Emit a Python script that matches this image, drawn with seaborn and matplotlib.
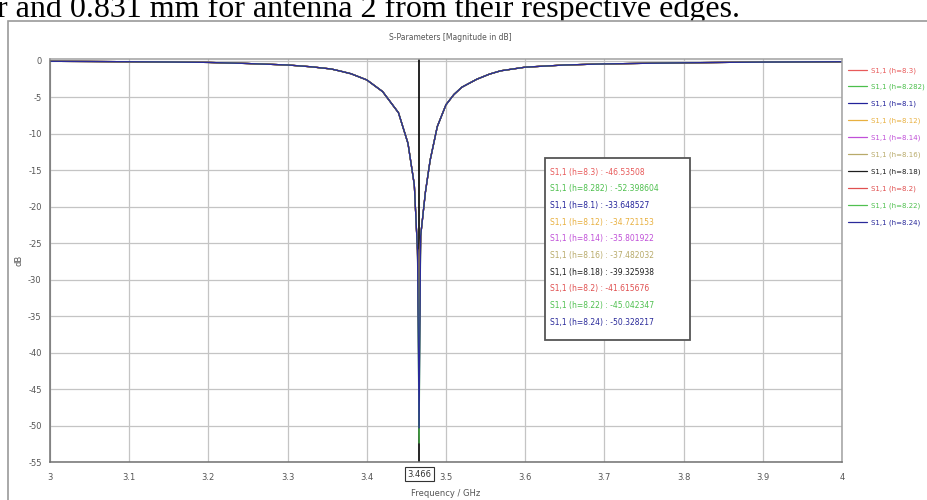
import matplotlib
matplotlib.use("Agg")
import matplotlib.pyplot as plt
import seaborn as sns
import pandas as pd
from matplotlib.patches import Rectangle

# ---------------- data ----------------
freq_left = [3.0, 3.05, 3.1, 3.15, 3.2, 3.25, 3.3, 3.33, 3.355, 3.367, 3.38,
             3.4, 3.42, 3.44, 3.452, 3.46, 3.464]
db_left = [-0.05, -0.07, -0.1, -0.14, -0.2, -0.35, -0.55, -0.8, -1.1, -1.4, -1.75,
           -2.6, -4.2, -7.1, -11.3, -17.0, -26.0]
freq_res = 3.466
freq_right = [3.468, 3.474, 3.48, 3.489, 3.5, 3.51, 3.52, 3.539, 3.555, 3.569,
              3.6, 3.65, 3.7, 3.8, 3.9, 4.0]
db_right = [-24.0, -18.0, -13.6, -9.0, -6.0, -4.6, -3.6, -2.5, -1.8, -1.35,
            -0.85, -0.55, -0.4, -0.25, -0.15, -0.1]

series_names = ["S1,1 (h=8.3)", "S1,1 (h=8.282)", "S1,1 (h=8.1)", "S1,1 (h=8.12)",
                "S1,1 (h=8.14)", "S1,1 (h=8.16)", "S1,1 (h=8.18)", "S1,1 (h=8.2)",
                "S1,1 (h=8.22)", "S1,1 (h=8.24)"]
min_values = [-46.53508, -52.398604, -33.648527, -34.721153, -35.801922,
              -37.482032, -39.325938, -41.615676, -45.042347, -50.328217]
min_labels = ["-46.53508", "-52.398604", "-33.648527", "-34.721153", "-35.801922",
              "-37.482032", "-39.325938", "-41.615676", "-45.042347", "-50.328217"]
colors = ["#e85a5a", "#4cbf4c", "#22229a", "#e8b040", "#c050d8",
          "#b8aa6a", "#1e1e1e", "#e05050", "#50c050", "#2a2a9a"]

x_ticks = [3.0, 3.1, 3.2, 3.3, 3.4, 3.5, 3.6, 3.7, 3.8, 3.9, 4.0]
x_tick_labels = ["3", "3.1", "3.2", "3.3", "3.4", "3.5", "3.6", "3.7", "3.8", "3.9", "4"]
y_ticks = [0, -5, -10, -15, -20, -25, -30, -35, -40, -45, -50, -55]
y_tick_labels = ["0", "-5", "-10", "-15", "-20", "-25", "-30", "-35", "-40", "-45", "-50", "-55"]

# ---------------- build long table ----------------
rows = []
for name, mv in zip(series_names, min_values):
    fr = freq_left + [freq_res] + freq_right
    vals = db_left + [mv] + db_right
    for f, v in zip(fr, vals):
        rows.append({"Frequency": f, "dB": v, "series": name})
df = pd.DataFrame(rows)

# ---------------- figure ----------------
sns.set_theme(style="white")
plt.rcParams["font.family"] = ["DejaVu Sans"]

W, H = 927, 500
fig = plt.figure(figsize=(W / 100, H / 100), dpi=100)
fig.patch.set_facecolor("white")

# document text above the screenshot (cut at top, as in the source page)
fig.text(-0.003, 1 - 17 / H, "r and 0.831 mm for antenna 2 from their respective edges.",
         family=["Liberation Serif"], fontsize=23, color="black",
         ha="left", va="baseline", zorder=1)
# screenshot frame
fig.patches.append(Rectangle((8 / W, -0.05), 1.0, (H - 21) / H + 0.05,
                             transform=fig.transFigure, facecolor="white",
                             edgecolor="#9a9a9a", lw=1.2, zorder=2))

ax = fig.add_axes([50 / W, (H - 462) / H, (842 - 50) / W, (462 - 59) / H])
ax.set_zorder(3)
ax.set_facecolor("white")

sns.lineplot(data=df, x="Frequency", y="dB", hue="series", hue_order=series_names,
             palette=colors, lw=0.9, ax=ax, sort=False, estimator=None, legend=True)

ax.axvline(freq_res, color="black", lw=1.2, zorder=1)

ax.set_xlim(3.0, 4.0)
ax.set_ylim(-55, 0.27)
ax.set_xticks(x_ticks)
ax.set_xticklabels(x_tick_labels)
ax.set_yticks(y_ticks)
ax.set_yticklabels(y_tick_labels)
ax.grid(True, color="#c4c4c4", lw=0.9)
ax.tick_params(axis="both", labelsize=6, colors="#555555", length=2,
               direction="inout", width=0.8)
ax.tick_params(axis="x", pad=7)
ax.tick_params(axis="y", pad=5)
for s in ["left", "bottom"]:
    ax.spines[s].set_color("#707070")
    ax.spines[s].set_linewidth(1.1)
for s in ["top", "right"]:
    ax.spines[s].set_color("#a0a0a0")
    ax.spines[s].set_linewidth(1.1)

ax.set_xlabel("Frequency / GHz", fontsize=6, color="#555555", labelpad=5)
ax.set_ylabel("dB", fontsize=6, color="#555555", labelpad=3)
fig.text(450 / W, 1 - 38 / H, "S-Parameters [Magnitude in dB]", fontsize=5.5,
         color="#555555", ha="center", va="center", zorder=4)

# boxed marker label on the x axis
ax.text(freq_res, -0.03, "3.466", transform=ax.get_xaxis_transform(),
        ha="center", va="center", fontsize=6, color="#333333",
        bbox=dict(boxstyle="square,pad=0.3", facecolor="white", edgecolor="#333333", lw=0.8),
        clip_on=False)

# marker value box
bx0, bx1 = (545 - 50) / 792, (690 - 50) / 792
by0, by1 = (462 - 340) / 403, (462 - 158) / 403
ax.add_patch(Rectangle((bx0, by0), bx1 - bx0, by1 - by0, transform=ax.transAxes,
                       facecolor="white", edgecolor="#555555", lw=1.3, zorder=5))
for i, (name, lab, c) in enumerate(zip(series_names, min_labels, colors)):
    yy = (462 - (172 + i * 16.7)) / 403
    ax.text((550 - 50) / 792, yy, f"{name} : {lab}", transform=ax.transAxes,
            fontsize=5.5, color=c, ha="left", va="center", zorder=6)

# legend on the right
handles, labels = ax.get_legend_handles_labels()
leg = ax.legend(handles, labels, loc="upper left",
                bbox_to_anchor=(848 / W, 1 - 67 / H), bbox_transform=fig.transFigure,
                frameon=False, fontsize=5, handlelength=2.8, handletextpad=0.5,
                labelspacing=1.5, borderaxespad=0, borderpad=0)
for t, c in zip(leg.get_texts(), colors):
    t.set_color(c)

fig.savefig("out.png", dpi=100, facecolor="white")
